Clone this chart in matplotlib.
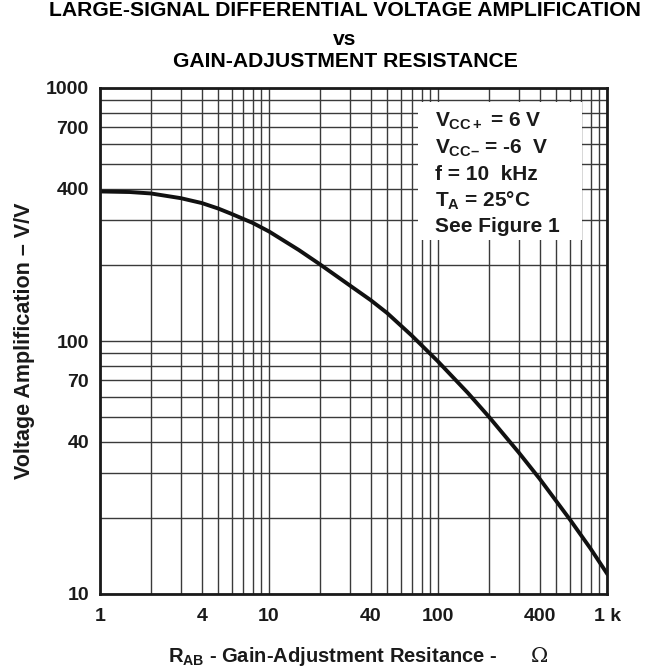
import numpy as np
import matplotlib
matplotlib.use('Agg')
import matplotlib.pyplot as plt
from matplotlib.patches import Rectangle
from matplotlib.ticker import LogLocator, NullFormatter

# Datos
r_ab = [1, 1.5, 2, 3, 4, 5, 6, 8, 10, 15, 20, 30, 40, 50, 70, 100,
        150, 200, 300, 400, 600, 800, 1000]
ganancia = [390, 388, 383, 367, 351, 334, 318, 293, 271, 229, 201, 166, 145, 129, 105, 83,
            62.4, 50.2, 36.3, 28.5, 19.8, 15.1, 12.05]

xticks = [1, 4, 10, 40, 100, 400, 1000]
xtick_labels = ['1', '4', '10', '40', '100', '400', '1 k']
yticks = [10, 40, 70, 100, 400, 700, 1000]
ytick_labels = ['10', '40', '70', '100', '400', '700', '1000']

plt.rcParams['font.family'] = ['Liberation Sans', 'DejaVu Sans']
plt.rcParams['font.weight'] = 'bold'
plt.rcParams['mathtext.fontset'] = 'custom'
plt.rcParams['mathtext.rm'] = 'Liberation Sans:bold'
plt.rcParams['mathtext.bf'] = 'Liberation Sans:bold'
plt.rcParams['mathtext.it'] = 'Liberation Sans:bold'

W, H = 659, 668
negro = '#1a1a1a'
fig = plt.figure(figsize=(W / 100, H / 100), dpi=100)
ax = fig.add_axes([100 / W, 1 - 594 / H, 507 / W, 506 / H])

ax.set_xscale('log')
ax.set_yscale('log')
ax.set_xlim(1, 1000)
ax.set_ylim(10, 1000)

ax.plot(r_ab, ganancia, color='#111111', linewidth=2.8, solid_joinstyle='round', zorder=4)

ax.set_xticks(xticks)
ax.set_xticklabels(xtick_labels)
ax.set_yticks(yticks)
ax.set_yticklabels(ytick_labels)
ax.xaxis.set_minor_locator(LogLocator(base=10, subs=np.arange(2, 10)))
ax.yaxis.set_minor_locator(LogLocator(base=10, subs=np.arange(2, 10)))
ax.xaxis.set_minor_formatter(NullFormatter())
ax.yaxis.set_minor_formatter(NullFormatter())
ax.tick_params(which='both', length=0)
ax.tick_params(axis='x', pad=10, labelsize=14)
ax.tick_params(axis='y', pad=8, labelsize=14)
for lbl in ax.get_xticklabels() + ax.get_yticklabels():
    lbl.set_fontweight('bold')
    lbl.set_color(negro)

ax.grid(True, which='both', color='#3a3a3a', linewidth=1.0)
for s in ax.spines.values():
    s.set_linewidth(2.0)
    s.set_color(negro)
    s.set_zorder(5)

# Cuadro de condiciones
ax.add_patch(Rectangle((0.627, 0.700), 0.324, 0.272, transform=ax.transAxes,
                       facecolor='white', edgecolor='none', zorder=3.5))
cond = ('$V_{CC+}$ = 6 V\n'
        '$V_{CC\u2013}$ = -6  V\n'
        'f = 10  kHz\n'
        '$T_{A}$ = 25\u00b0C\n'
        'See Figure 1')
ax.text(0.661, 0.955, cond, transform=ax.transAxes, ha='left', va='top',
        fontsize=15, fontweight='bold', linespacing=1.36, zorder=6, color=negro)

fig.text(24.5 / W, 1 - 341 / H, 'Voltage Amplification \u2013 V/V', rotation=90,
         ha='center', va='center', fontsize=15.5, fontweight='bold', color=negro)
fig.text(498 / W, 1 - 656 / H, '$R_{AB}$ - Gain-Adjustment Resitance -',
         ha='right', va='center', fontsize=14.5, fontweight='bold', color=negro)
fig.text(539 / W, 1 - 656 / H, '\u03a9', ha='center', va='center', fontsize=15,
         fontweight='normal', family='DejaVu Serif', color=negro)

# Titulo en tres lineas
cx = 345 / W
fig.text(cx, 1 - 16 / H, 'LARGE-SIGNAL DIFFERENTIAL VOLTAGE AMPLIFICATION',
         ha='center', va='baseline', fontsize=15.2, fontweight='bold', color='black')
fig.text(cx, 1 - 45 / H, 'vs', ha='center', va='baseline', fontsize=15.2,
         fontweight='bold', color='black')
fig.text(cx, 1 - 67 / H, 'GAIN-ADJUSTMENT RESISTANCE',
         ha='center', va='baseline', fontsize=15.2, fontweight='bold', color='black')

fig.savefig('out.png', dpi=100)
